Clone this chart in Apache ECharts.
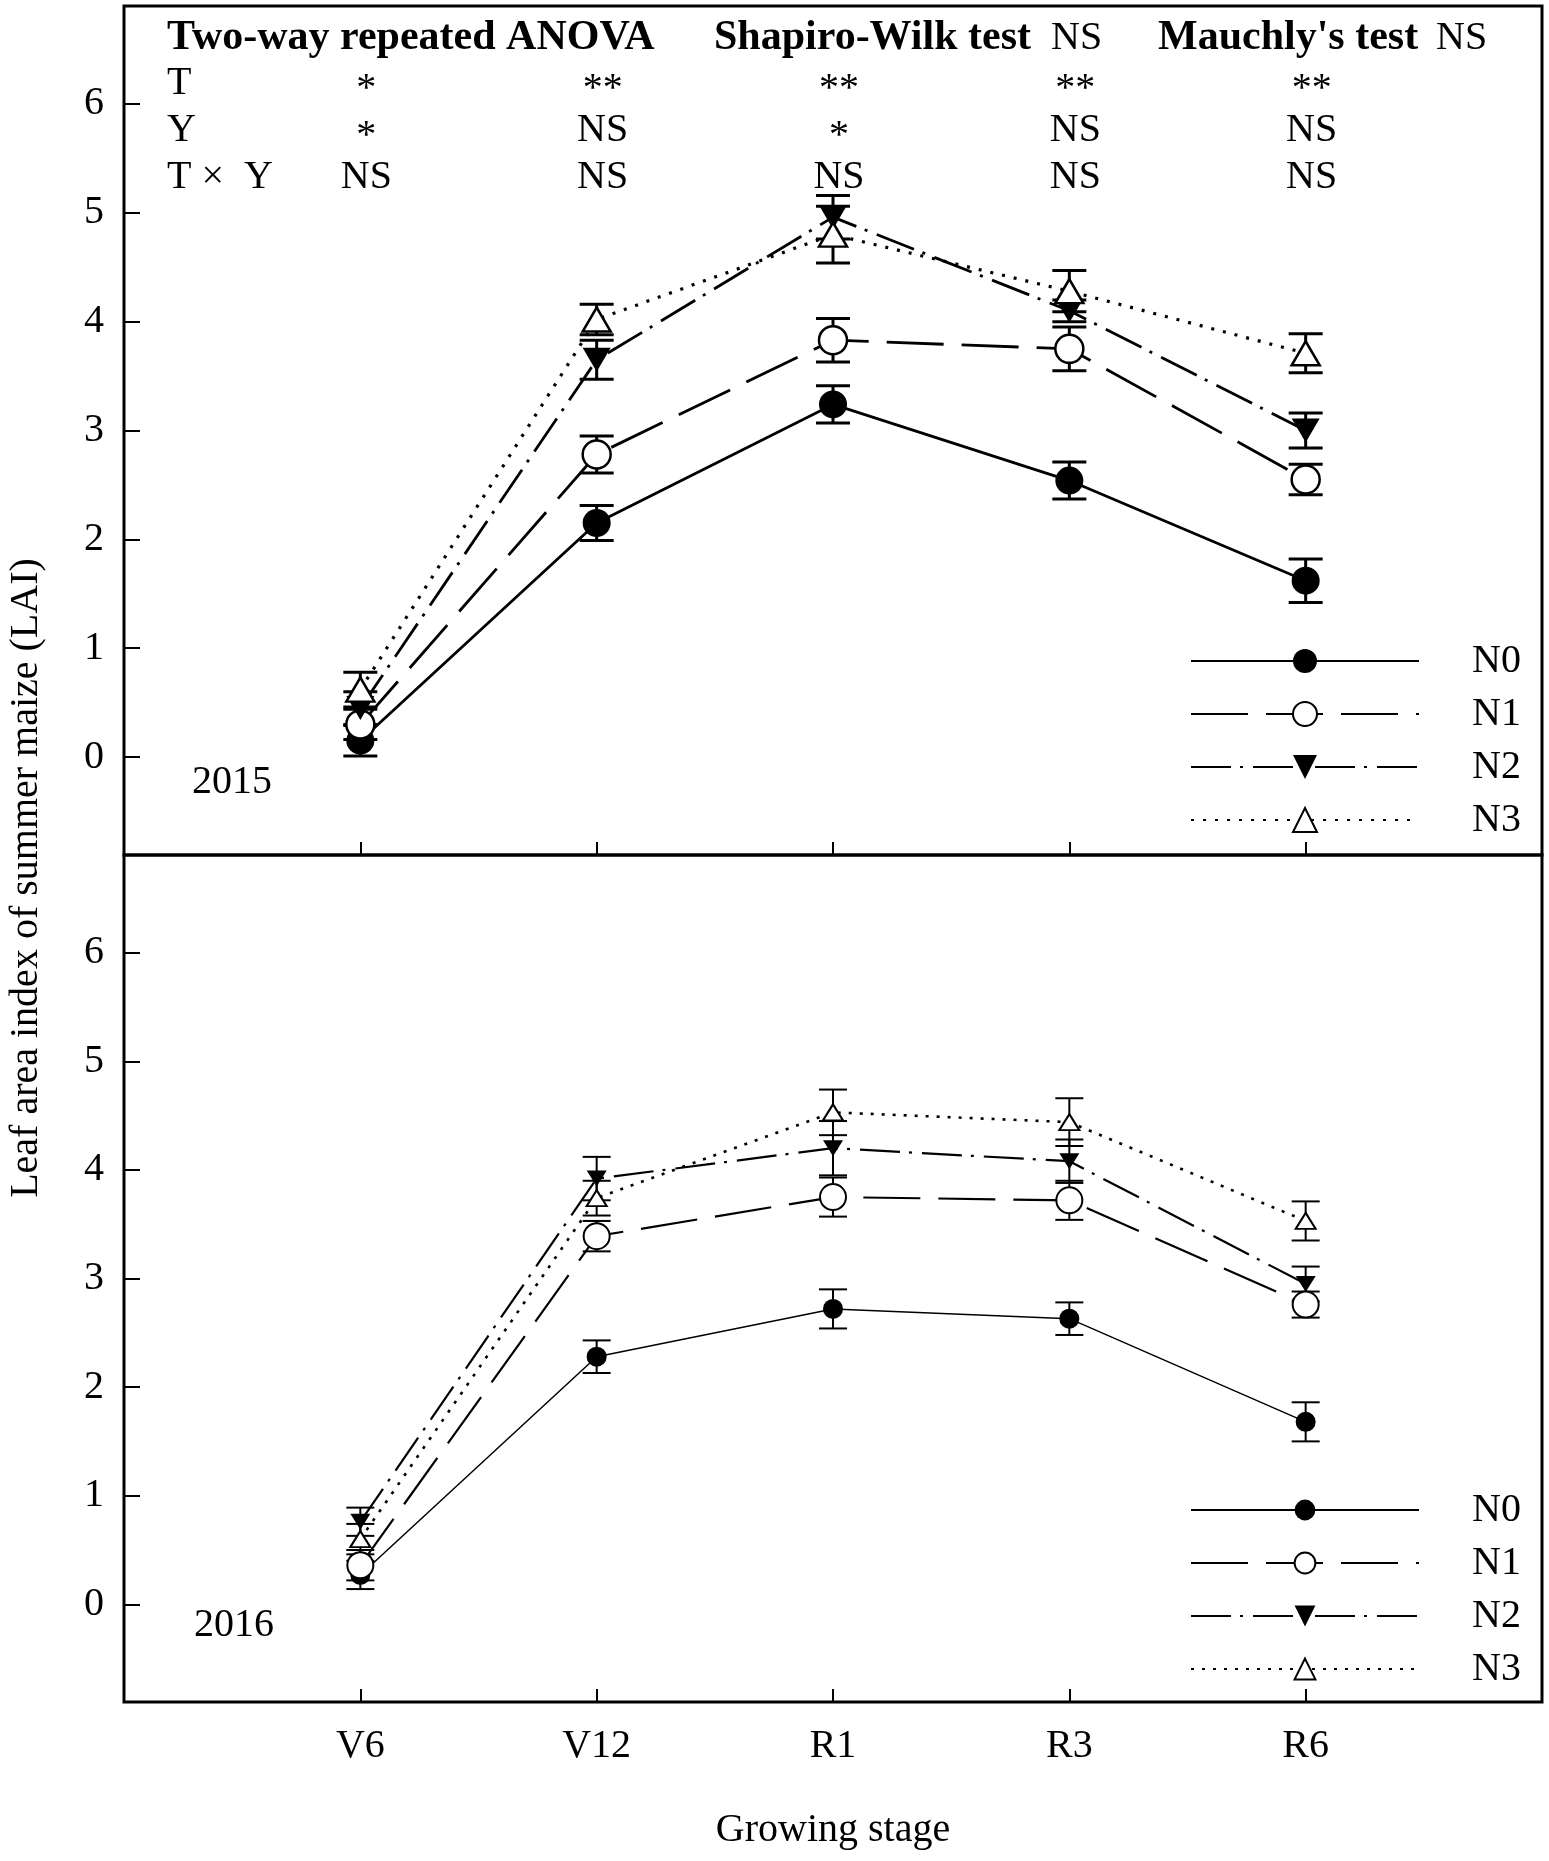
<!DOCTYPE html>
<html>
<head>
<meta charset="UTF-8">
<title>LAI of summer maize</title>
<script type="text/javascript" src="https://cdn.jsdelivr.net/npm/echarts@6/dist/echarts.min.js"></script>
<style>
html,body{margin:0;padding:0;background:#fff;}
</style>
</head>
<body>
<div id="mychar" style="width:1549px;height:1861px;"></div>

<script type="text/javascript">
// growing stages and treatments
var stages = ['V6', 'V12', 'R1', 'R3', 'R6'];
var treatments = ['N0', 'N1', 'N2', 'N3'];

// 2015 LAI means and error bars
var n0_2015 = [0.15, 2.15, 3.24, 2.54, 1.62];
var n1_2015 = [0.30, 2.78, 3.83, 3.75, 2.55];
var n2_2015 = [0.45, 3.65, 4.96, 4.10, 3.00];
var n3_2015 = [0.62, 4.02, 4.80, 4.28, 3.71];
var n0_2015_err = [0.14, 0.16, 0.17, 0.17, 0.20];
var n1_2015_err = [0.14, 0.17, 0.20, 0.20, 0.14];
var n2_2015_err = [0.15, 0.18, 0.20, 0.10, 0.16];
var n3_2015_err = [0.16, 0.14, 0.26, 0.19, 0.18];

// 2016 LAI means and error bars
var n0_2016 = [0.27, 2.28, 2.72, 2.63, 1.68];
var n1_2016 = [0.36, 3.39, 3.75, 3.72, 2.76];
var n2_2016 = [0.76, 3.92, 4.20, 4.08, 2.95];
var n3_2016 = [0.60, 3.74, 4.53, 4.44, 3.53];
var n0_2016_err = [0.13, 0.15, 0.18, 0.15, 0.18];
var n1_2016_err = [0.14, 0.14, 0.18, 0.18, 0.12];
var n2_2016_err = [0.13, 0.20, 0.25, 0.20, 0.16];
var n3_2016_err = [0.14, 0.16, 0.21, 0.22, 0.18];

// ANOVA table
var anovaRows = ['T', 'Y', 'T ×  Y'];
var sigT = ['*', '**', '**', '**', '**'];
var sigY = ['*', 'NS', '*', 'NS', 'NS'];
var sigTY = ['NS', 'NS', 'NS', 'NS', 'NS'];

var yTicks = [0, 1, 2, 3, 4, 5, 6];
var xTicks = [0, 1, 2, 3, 4];
var FONT = '"Liberation Serif", "Times New Roman", serif';

var mychart = echarts.init(document.getElementById('mychar'));

// line styles per treatment
var dashes = ['solid', [57, 18], [40, 9, 3, 10], [3, 7]];

function symbolOf(i, big) {
  var s = big ? 28 : 20;
  if (i === 0) return {symbol: 'circle', symbolSize: s, symbolRotate: 0, itemStyle: {color: '#000'}};
  if (i === 1) return {symbol: 'circle', symbolSize: big ? 28 : 26, symbolRotate: 0,
    itemStyle: {color: '#fff', borderColor: '#000', borderWidth: big ? 2.5 : 2}};
  if (i === 2) return {symbol: 'triangle', symbolSize: [s, s - 4], symbolRotate: 180, itemStyle: {color: '#000'}};
  return {symbol: 'triangle', symbolSize: [s, s - 4], symbolRotate: 0,
    itemStyle: {color: '#fff', borderColor: '#000', borderWidth: big ? 2.5 : 2}};
}

function errRender(capHalf, lw) {
  return function (params, api) {
    var x = api.value(0);
    var lo = api.coord([x, api.value(1)]);
    var hi = api.coord([x, api.value(2)]);
    var st = {stroke: '#000', lineWidth: lw};
    return {type: 'group', children: [
      {type: 'line', shape: {x1: lo[0], y1: lo[1], x2: hi[0], y2: hi[1]}, style: st},
      {type: 'line', shape: {x1: lo[0] - capHalf, y1: lo[1], x2: lo[0] + capHalf, y2: lo[1]}, style: st},
      {type: 'line', shape: {x1: hi[0] - capHalf, y1: hi[1], x2: hi[0] + capHalf, y2: hi[1]}, style: st}
    ]};
  };
}

var series = [];
function addPanel(gi, year, means, errs, big) {
  var lw = big ? 3 : 2;
  // error bars first so markers sit on top
  for (var i = 0; i < means.length; i++) {
    var ed = [];
    for (var k = 0; k < stages.length; k++) {
      ed.push([k, means[i][k] - errs[i][k], means[i][k] + errs[i][k]]);
    }
    series.push({
      name: 'err' + year + i, type: 'custom', xAxisIndex: gi, yAxisIndex: gi,
      renderItem: errRender(big ? 17 : 14, lw), data: ed, silent: true, z: 2,
      encode: {x: 0, y: [1, 2]}
    });
  }
  for (var i = 0; i < means.length; i++) {
    var d = [];
    for (var k = 0; k < stages.length; k++) d.push([k, means[i][k]]);
    var sym = symbolOf(i, big);
    var w = big ? (i === 3 ? 3.2 : 2.8) : (i === 0 ? 1.5 : (i === 3 ? 2.6 : 2.2));
    series.push({
      name: year + ' ' + treatments[i], type: 'line', xAxisIndex: gi, yAxisIndex: gi,
      data: d, symbol: sym.symbol, symbolSize: sym.symbolSize, symbolRotate: sym.symbolRotate,
      showAllSymbol: true, itemStyle: sym.itemStyle, z: 3,
      lineStyle: {color: '#000', width: w, type: i === 3 ? (big ? [3, 9] : [3, 8]) : dashes[i]},
      emphasis: {disabled: true}, animation: false
    });
  }
}

addPanel(0, '2015', [n0_2015, n1_2015, n2_2015, n3_2015],
  [n0_2015_err, n1_2015_err, n2_2015_err, n3_2015_err], true);
addPanel(1, '2016', [n0_2016, n1_2016, n2_2016, n3_2016],
  [n0_2016_err, n1_2016_err, n2_2016_err, n3_2016_err], false);

function xAxisOf(gi, showLabel) {
  return {
    type: 'value', gridIndex: gi, min: -1, max: 5, position: 'bottom',
    axisLine: {show: false, onZero: false}, splitLine: {show: false},
    axisTick: {show: true, inside: true, length: 13, customValues: xTicks, lineStyle: {color: '#000', width: 2}},
    axisLabel: {show: showLabel, customValues: xTicks, margin: 24,
      formatter: function (v) { return stages[Math.round(v)] || ''; },
      color: '#000', fontFamily: FONT, fontSize: 40},
    name: showLabel ? 'Growing stage' : '', nameLocation: 'middle', nameGap: 108,
    nameTextStyle: {color: '#000', fontFamily: FONT, fontSize: 40}
  };
}
function yAxisOf(gi) {
  return {
    type: 'value', gridIndex: gi, min: -0.9, max: 6.9, position: 'left',
    axisLine: {show: false, onZero: false}, splitLine: {show: false},
    axisTick: {show: true, inside: true, length: 16, customValues: yTicks, lineStyle: {color: '#000', width: 2}},
    axisLabel: {customValues: yTicks, margin: 20, color: '#000', fontFamily: FONT, fontSize: 40}
  };
}

function legendOf(year, top, ih) {
  return {
    orient: 'vertical', left: 1185, top: top, itemWidth: 228, itemHeight: ih, itemGap: 13,
    data: treatments.map(function (t) { return year + ' ' + t; }),
    formatter: function (name) { return name.split(' ')[1]; },
    textStyle: {color: '#000', fontFamily: FONT, fontSize: 40, padding: [0, 0, 0, 48]},
    selectedMode: false
  };
}

var option = {
  backgroundColor: '#fff',
  animation: false,
  grid: [
    {left: 124, top: 6, width: 1418, height: 849, show: true, borderColor: '#000', borderWidth: 3, backgroundColor: 'transparent'},
    {left: 124, top: 855, width: 1418, height: 847, show: true, borderColor: '#000', borderWidth: 3, backgroundColor: 'transparent'}
  ],
  xAxis: [xAxisOf(0, false), xAxisOf(1, true)],
  yAxis: [yAxisOf(0), yAxisOf(1)],
  legend: [legendOf('2015', 636, 30), legendOf('2016', 1485, 26)],
  series: series
};
mychart.setOption(option);

// text annotations placed through the axes
function px(gi, x, y) {
  return mychart.convertToPixel({xAxisIndex: gi, yAxisIndex: gi}, [x, y]);
}
function txt(t, x, y, font, align) {
  return {type: 'text', z: 10, style: {text: t, x: x, y: y, font: font,
    textAlign: align || 'left', textVerticalAlign: 'middle', fill: '#000'}};
}
var bold = 'bold 42px ' + FONT;
var norm = '40px ' + FONT;
var g = [];
var left0 = px(0, -1, 0)[0];
g.push(txt('Two-way repeated ANOVA', left0 + 43, 38, bold));
g.push(txt('Shapiro-Wilk test', left0 + 590, 38, bold));
g.push(txt('NS', left0 + 927, 38, norm));
g.push(txt("Mauchly's test", left0 + 1034, 38, bold));
g.push(txt('NS', left0 + 1312, 38, norm));
var rowY = [83, 130, 177];
var rows = [sigT, sigY, sigTY];
for (var r = 0; r < anovaRows.length; r++) {
  g.push(txt(anovaRows[r], left0 + 43, rowY[r], norm));
  for (var k = 0; k < stages.length; k++) {
    g.push(txt(rows[r][k], px(0, k, 0)[0] + 6, rows[r][k] === 'NS' ? rowY[r] : rowY[r] + 6, norm, 'center'));
  }
}
g.push(txt('2015', px(0, -1, 0)[0] + 108, px(0, 0, -0.23)[1], norm, 'center'));
g.push(txt('2016', px(1, -1, 0)[0] + 110, px(1, 0, -0.2)[1], norm, 'center'));
g.push({type: 'text', z: 10, x: 26, y: 878, rotation: Math.PI / 2,
  style: {text: 'Leaf area index of summer maize (LAI)', font: norm, fill: '#000',
    textAlign: 'center', textVerticalAlign: 'middle'}});
mychart.setOption({graphic: g});
</script>
</body>
</html>
